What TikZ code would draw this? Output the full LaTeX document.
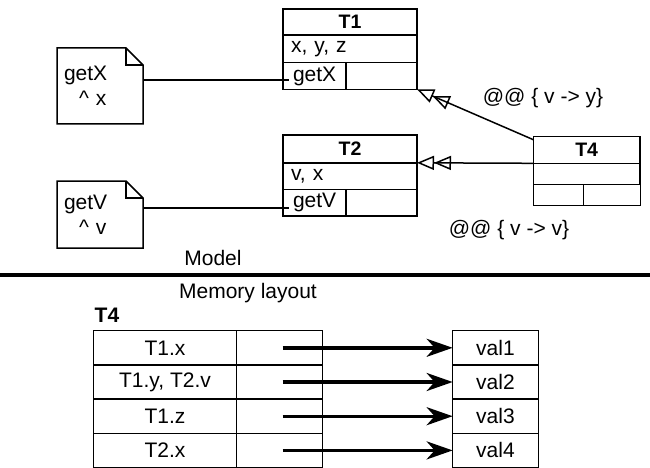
\documentclass[tikz,border=0pt]{standalone}
\usepackage{fontspec}
\setmainfont{Liberation Sans}
\usetikzlibrary{arrows.meta}
\begin{document}
\begin{tikzpicture}[x=1pt,y=-1pt,
  every node/.style={font=\fontsize{21}{24}\selectfont, inner sep=0pt, outer sep=0pt},
  cell/.style={draw, line width=1.5pt},
  ttl/.style={cell, font=\fontsize{19.5}{22}\selectfont\bfseries},
  lcell/.style={cell, align=left, text width=#1},
  notebox/.style={align=left, text width=72pt, minimum width=86pt, font=\fontsize{21}{25}\selectfont},
  noteline/.style={line width=1.5pt, line join=miter},
  assoc/.style={line width=1.5pt},
  inh/.style={line width=1.5pt, -{Triangle[open,length=17pt,width=14pt] Triangle[open,length=17pt,width=14pt]}},
  mem/.style={line width=3.4pt, -{Stealth[length=26pt,width=18pt,inset=8pt]}}]
\useasboundingbox (0,0) rectangle (650,468);

% ---- T1
\node[ttl, minimum width=134pt, minimum height=26pt] (t1t) at (350,22) {T1};
\node[lcell=118pt, minimum width=134pt, minimum height=27.7pt] (t1a) at (350,48.85) {x, y, z};
\node[lcell=43pt, minimum width=63pt, minimum height=26.6pt] (t1ml) at (314.5,76) {getX};
\node[cell, minimum width=71pt, minimum height=26.6pt] (t1mr) at (381.5,76) {};

% ---- T2
\node[ttl, minimum width=134pt, minimum height=27.6pt] (t2t) at (350,149) {T2};
\node[lcell=118pt, minimum width=134pt, minimum height=26.8pt] (t2a) at (350,176.2) {v, x};
\node[lcell=43pt, minimum width=63pt, minimum height=26.6pt] (t2ml) at (314.5,202.9) {getV};
\node[cell, minimum width=71pt, minimum height=26.6pt] (t2mr) at (381.5,202.9) {};

% ---- T4
\node[ttl, minimum width=106.7pt, minimum height=26.6pt] (t4t) at (586.7,150) {T4};
\node[cell, minimum width=106.7pt, minimum height=21pt] (t4a) at (586.7,173.8) {};
\node[cell, minimum width=50pt, minimum height=21pt] (t4ml) at (558.3,194.8) {};
\node[cell, minimum width=56.7pt, minimum height=21pt] (t4mr) at (612,194.8) {};

% ---- notes
\node[notebox, minimum height=76pt] (n1) at (100,86) {getX\\\hspace{15pt}\textasciicircum\ x};
\draw[noteline] (n1.north west) -- ([xshift=-17pt]n1.north east) -- ([yshift=-17pt]n1.north east)
  -- (n1.south east) -- (n1.south west) -- cycle;
\draw[noteline] ([xshift=-17pt]n1.north east) |- ([yshift=-17pt]n1.north east);

\node[notebox, minimum height=67pt] (n2) at (100,214.5) {getV\\\hspace{15pt}\textasciicircum\ v};
\draw[noteline] (n2.north west) -- ([xshift=-17pt]n2.north east) -- ([yshift=-17pt]n2.north east)
  -- (n2.south east) -- (n2.south west) -- cycle;
\draw[noteline] ([xshift=-17pt]n2.north east) |- ([yshift=-17pt]n2.north east);

% ---- connectors
\coordinate (c1) at ([yshift=-4pt]t1ml.west);
\draw[assoc] (n1.east |- c1) -- ([xshift=6pt]c1);
\coordinate (c2) at ([yshift=-5pt]t2ml.west);
\draw[assoc] (n2.east |- c2) -- ([xshift=6pt]c2);

\draw[inh] ([yshift=-3pt]t4t.north west) -- (t1mr.south east);
\draw[inh] (t4t.south west) -- (t2t.south east);

\node (l1) at (543,98) {@@ \{ v -> y\}};
\node (l2) at (509,230) {@@ \{ v -> v\}};

\node (model) at (213,258) {Model};
\draw[line width=3.4pt] (0,275) -- (650,275);
\node (ml) at (248,293) {Memory layout};
\node[font=\fontsize{21}{24}\selectfont\bfseries] (t4l) at (107,315) {T4};

% ---- memory table
\node[cell, minimum width=143.4pt, minimum height=34.2pt] (m1a) at (165,347.8) {T1.x};
\node[cell, minimum width=86pt, minimum height=34.2pt] (m1b) at (279.7,347.8) {};
\node[cell, minimum width=143.4pt, minimum height=34.2pt] (m2a) at (165,382) {T1.y, T2.v};
\node[cell, minimum width=86pt, minimum height=34.2pt] (m2b) at (279.7,382) {};
\node[cell, minimum width=143.4pt, minimum height=34.2pt] (m3a) at (165,416.2) {T1.z};
\node[cell, minimum width=86pt, minimum height=34.2pt] (m3b) at (279.7,416.2) {};
\node[cell, minimum width=143.4pt, minimum height=34.2pt] (m4a) at (165,450.4) {T2.x};
\node[cell, minimum width=86pt, minimum height=34.2pt] (m4b) at (279.7,450.4) {};

\node[cell, minimum width=85.7pt, minimum height=34.2pt] (v1) at (495.5,347.8) {val1};
\node[cell, minimum width=85.7pt, minimum height=34.2pt] (v2) at (495.5,382) {val2};
\node[cell, minimum width=85.7pt, minimum height=34.2pt] (v3) at (495.5,416.2) {val3};
\node[cell, minimum width=85.7pt, minimum height=34.2pt] (v4) at (495.5,450.4) {val4};

\draw[mem] ([xshift=3pt]m1b.center) -- (v1.west);
\draw[mem] ([xshift=3pt]m2b.center) -- (v2.west);
\draw[mem] ([xshift=3pt]m3b.center) -- (v3.west);
\draw[mem] ([xshift=3pt]m4b.center) -- (v4.west);
\end{tikzpicture}
\end{document}
